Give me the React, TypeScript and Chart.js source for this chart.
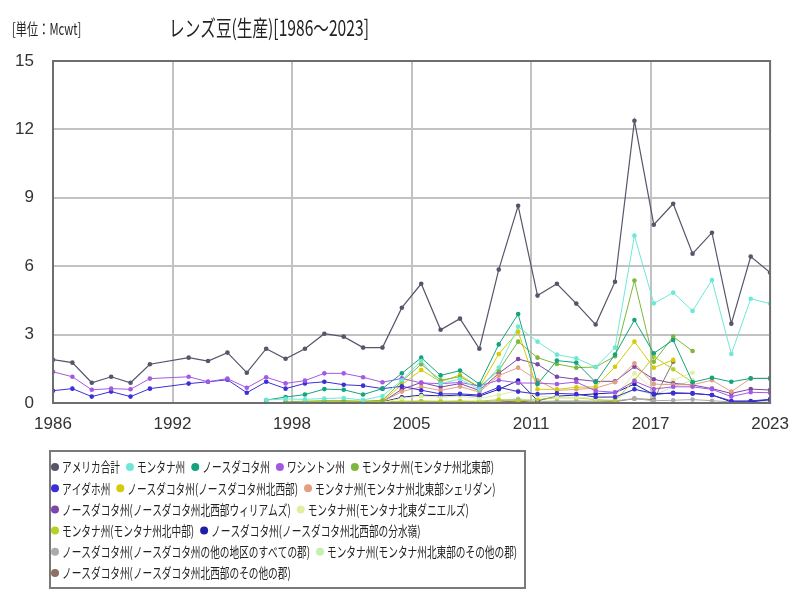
import React, { useEffect, useRef } from "react";
import { Chart, registerables } from "chart.js";
Chart.register(...registerables);

const TITLE = "レンズ豆(生産)[1986〜2023]";
const UNIT = "[単位：Mcwt]";

const years = [
  1986, 1987, 1988, 1989, 1990, 1991, 1992, 1993, 1994, 1995,
  1996, 1997, 1998, 1999, 2000, 2001, 2002, 2003, 2004, 2005,
  2006, 2007, 2008, 2009, 2010, 2011, 2012, 2013, 2014, 2015,
  2016, 2017, 2018, 2019, 2020, 2021, 2022, 2023,
];

const yTicks = [0, 3, 6, 9, 12, 15];

const N = null;

const usTotal = [1.90, 1.77, 0.89, 1.15, 0.89, 1.70, N, 1.99, 1.84, 2.21, 1.33, 2.38, 1.94, 2.38, 3.04, 2.91, 2.43, 2.43, 4.18, 5.23, 3.21, 3.70, 2.38, 5.85, 8.65, 4.71, 5.23, 4.36, 3.44, 5.32, 12.38, 7.82, 8.74, 6.55, 7.47, 3.48, 6.42, 5.72];
const montana = [N, N, N, N, N, N, N, N, N, N, N, 0.13, 0.18, 0.16, 0.20, 0.22, 0.13, 0.31, 1.00, 1.84, 0.85, 1.05, 0.60, 1.56, 3.35, 2.69, 2.12, 1.96, 1.58, 2.43, 7.34, 4.37, 4.84, 4.04, 5.39, 2.15, 4.57, 4.36];
const northDakota = [N, N, N, N, N, N, N, N, N, N, N, 0.13, 0.26, 0.37, 0.61, 0.58, 0.37, 0.63, 1.30, 1.99, 1.21, 1.42, 0.83, 2.57, 3.90, 0.83, 1.86, 1.77, 0.91, 2.13, 3.64, 2.18, 2.76, 0.91, 1.11, 0.93, 1.08, 1.08];
const washington = [1.37, 1.15, 0.58, 0.63, 0.60, 1.07, N, 1.15, 0.93, 1.07, 0.67, 1.13, 0.86, 0.98, 1.30, 1.30, 1.13, 0.91, 1.08, 0.88, 0.85, 0.90, 0.75, 1.00, 0.88, 0.87, 0.83, 0.92, 0.53, 0.47, 0.96, 0.61, 0.71, 0.71, 0.60, 0.28, 0.47, 0.45];
const montanaNE = [N, N, N, N, N, N, N, N, N, N, N, N, 0.05, 0.08, 0.10, 0.10, 0.08, 0.12, 0.95, 1.70, 1.00, 1.15, 0.70, 1.43, 2.69, 1.99, 1.71, 1.55, 1.58, 2.05, 5.37, 1.81, 2.91, 2.28, N, N, N, N];
const idaho = [0.54, 0.63, 0.28, 0.50, 0.28, 0.63, N, 0.85, 0.93, 1.02, 0.45, 0.93, 0.63, 0.86, 0.93, 0.80, 0.76, 0.63, 0.73, 0.56, 0.40, 0.40, 0.35, 0.69, 0.50, 0.39, 0.42, 0.39, 0.26, 0.26, 0.60, 0.42, 0.42, 0.42, 0.35, 0.09, 0.09, 0.16];
const ndNorthwest = [N, N, N, N, N, N, N, N, N, N, N, N, N, 0.05, 0.08, 0.08, 0.06, 0.08, 0.80, 1.45, 0.93, 1.23, 0.68, 2.15, 3.13, 0.60, 0.60, 0.69, 0.71, 1.59, 2.69, 1.55, 1.89, N, N, N, N, N];
const mtSheridan = [N, N, N, N, N, N, N, N, N, N, N, N, N, 0.02, 0.03, 0.03, 0.03, 0.05, 0.50, 0.71, 0.55, 0.72, 0.48, 1.20, 1.55, 1.00, 0.55, 0.60, 0.65, 0.91, 1.74, 0.83, 0.80, 0.80, 1.00, 0.50, 1.08, 1.08];
const ndWilliams = [N, N, N, N, N, N, N, N, N, N, N, N, N, 0.02, 0.03, 0.03, 0.03, 0.05, 0.60, 0.90, 0.70, 0.85, 0.55, 1.30, 1.93, 1.70, 1.15, 1.04, 0.95, 0.95, 1.59, 1.04, 0.86, 0.79, 0.63, 0.42, 0.61, 0.57];
const mtDaniels = [N, N, N, N, N, N, N, N, N, N, N, N, N, 0.01, 0.02, 0.02, 0.02, 0.03, 0.20, 0.30, 0.25, 0.30, 0.20, 0.35, 0.55, 0.30, 0.25, 0.25, 0.20, 0.30, 1.30, 0.60, 1.00, 1.33, N, N, N, N];
const mtNorthCentral = [N, N, N, N, N, N, N, N, N, N, N, N, N, 0.05, 0.05, 0.05, 0.05, 0.05, 0.08, 0.08, 0.08, 0.08, 0.08, 0.15, 0.10, 0.15, 0.23, 0.23, 0.15, 0.10, 1.00, 2.03, 1.48, 0.91, N, N, N, N];
const ndDivide = [N, N, N, N, N, N, N, N, N, N, N, 0.02, 0.02, 0.03, 0.03, 0.03, 0.03, 0.05, 0.25, 0.35, 0.31, 0.35, 0.30, 0.60, 0.98, 0.10, 0.30, 0.35, 0.40, 0.45, 0.83, 0.37, 0.45, 0.42, 0.35, 0.05, 0.05, 0.15];
const ndOtherDistricts = [N, N, N, N, N, N, N, N, N, N, N, N, N, 0.01, 0.01, 0.01, 0.01, 0.02, 0.05, 0.08, 0.06, 0.08, 0.05, 0.10, 0.15, 0.05, 0.08, 0.08, 0.08, 0.10, 0.19, 0.10, 0.12, 0.15, 0.10, 0.05, 0.08, 0.10];
const mtNEOther = [N, N, N, N, N, N, N, N, N, N, N, N, N, 0.01, 0.01, 0.01, 0.01, 0.01, 0.03, 0.05, 0.04, 0.05, 0.03, 0.10, 0.20, 0.08, 0.10, 0.10, 0.08, 0.15, 0.60, 0.35, 0.70, 1.00, N, N, N, N];
const ndNWOther = [N, N, N, N, N, N, N, N, N, N, N, N, N, 0.01, 0.01, 0.01, 0.01, 0.01, 0.02, 0.03, 0.03, 0.03, 0.02, 0.05, 0.08, 0.03, 0.05, 0.05, 0.05, 0.06, 0.19, 0.15, 1.81, N, N, N, N, N];

const seriesNames = [
  "アメリカ合計",
  "モンタナ州",
  "ノースダコタ州",
  "ワシントン州",
  "モンタナ州(モンタナ州北東部)",
  "アイダホ州",
  "ノースダコタ州(ノースダコタ州北西部)",
  "モンタナ州(モンタナ州北東部シェリダン)",
  "ノースダコタ州(ノースダコタ州北西部ウィリアムズ)",
  "モンタナ州(モンタナ北東ダニエルズ)",
  "モンタナ州(モンタナ州北中部)",
  "ノースダコタ州(ノースダコタ州北西部の分水嶺)",
  "ノースダコタ州(ノースダコタ州の他の地区のすべての郡)",
  "モンタナ州(モンタナ州北東部のその他の郡)",
  "ノースダコタ州(ノースダコタ州北西部のその他の郡)",
];
const seriesValues = [
  usTotal, montana, northDakota, washington, montanaNE, idaho, ndNorthwest,
  mtSheridan, ndWilliams, mtDaniels, mtNorthCentral, ndDivide,
  ndOtherDistricts, mtNEOther, ndNWOther,
];
const seriesColors = [
  "#55566a", "#6ee8d6", "#13a47e", "#a459e3", "#7db83c", "#3c2fd8",
  "#d4cc08", "#e49e80", "#7e46a6", "#e0f0a2", "#b8d026", "#1e1ea6",
  "#ababab", "#c4f0b4", "#8c7262",
];

const FONT_JP = "'Noto Sans CJK JP', 'Noto Sans', sans-serif";

function drawScaledText(ctx: CanvasRenderingContext2D, text: string, x: number, y: number, font: string, sx: number, align: CanvasTextAlign) {
  ctx.save();
  ctx.font = font;
  ctx.textBaseline = "middle";
  ctx.textAlign = align;
  ctx.translate(x, y);
  ctx.scale(sx, 1);
  ctx.fillText(text, 0, 0);
  ctx.restore();
}

const decorPlugin = {
  id: "decor",
  afterDatasetsDraw(chart: any) {
    const { ctx, chartArea } = chart;
    ctx.save();
    ctx.strokeStyle = "#6e6e6e";
    ctx.lineWidth = 2;
    ctx.strokeRect(chartArea.left, chartArea.top, chartArea.right - chartArea.left, chartArea.bottom - chartArea.top);
    ctx.restore();
  },
  afterDraw(chart: any) {
    const ctx: CanvasRenderingContext2D = chart.ctx;
    ctx.save();
    ctx.fillStyle = "#222";
    drawScaledText(ctx, TITLE, 269, 28, `22px ${FONT_JP}`, 0.71, "center");
    drawScaledText(ctx, UNIT, 12, 29, `16px ${FONT_JP}`, 0.7, "left");

    // legend box
    const boxL = 50, boxT = 451, boxW = 475, boxH = 137;
    ctx.strokeStyle = "#7a7a7a";
    ctx.lineWidth = 2;
    ctx.strokeRect(boxL, boxT, boxW, boxH);

    const sx = 0.69;
    const font = `14px ${FONT_JP}`;
    ctx.font = font;
    const startX = 51;
    const maxRight = boxL + boxW;
    let x = startX;
    let row = 0;
    const rowY0 = 467;
    const rowH = 21.2;
    seriesNames.forEach((name, i) => {
      const tw = ctx.measureText(name).width * sx;
      const w = 11 + tw;
      if (x + w > maxRight && x > startX) {
        row += 1;
        x = startX;
      }
      const y = rowY0 + row * rowH;
      ctx.beginPath();
      ctx.fillStyle = seriesColors[i];
      ctx.arc(x + 4, y, 4, 0, Math.PI * 2);
      ctx.fill();
      ctx.fillStyle = "#222";
      drawScaledText(ctx, name, x + 11, y, font, sx, "left");
      x += w + 6;
    });
    ctx.restore();
  },
};

export default function App() {
  const ref = useRef<HTMLCanvasElement | null>(null);
  useEffect(() => {
    if (!ref.current) return;
    const datasets = seriesNames.map((name, i) => ({
      label: name,
      data: years
        .map((yr, j) => ({ x: yr, y: seriesValues[i][j] }))
        .filter((p) => p.y !== null),
      borderColor: seriesColors[i],
      backgroundColor: seriesColors[i],
      pointBackgroundColor: seriesColors[i],
      pointBorderWidth: 0,
      pointRadius: 2.3,
      borderWidth: i === 0 ? 1.2 : 1,
      tension: 0,
    }));
    const chart = new Chart(ref.current, {
      type: "line",
      data: { datasets },
      options: {
        animation: false,
        responsive: false,
        maintainAspectRatio: false,
        layout: { padding: { top: 61, right: 28, left: 0, bottom: 0 } },
        plugins: {
          legend: { display: false },
          title: { display: false },
          tooltip: { enabled: false },
        },
        scales: {
          x: {
            type: "linear",
            min: years[0],
            max: years[years.length - 1],
            afterFit: (scale: any) => { scale.height = 197; },
            afterBuildTicks: (scale: any) => {
              const a = years[0];
              const b = years[years.length - 1];
              scale.ticks = [0, 1, 2, 3, 4, 5, 6].map((k) => ({ value: a + ((b - a) * k) / 6 }));
            },
            grid: { color: "#c2c2c2", lineWidth: 2, drawTicks: false },
            border: { display: false },
            ticks: {
              padding: 11,
              color: "#333",
              maxRotation: 0,
              font: { family: "'Liberation Sans', Arial, sans-serif", size: 17 },
              callback: (v: any) => String(Math.round(Number(v))),
            },
          },
          y: {
            min: yTicks[0],
            max: yTicks[yTicks.length - 1],
            afterFit: (scale: any) => { scale.width = 53; },
            afterBuildTicks: (scale: any) => {
              scale.ticks = yTicks.map((v) => ({ value: v }));
            },
            grid: { color: "#c2c2c2", lineWidth: 2, drawTicks: false },
            border: { display: false },
            ticks: {
              padding: 19,
              color: "#333",
              font: { family: "'Liberation Sans', Arial, sans-serif", size: 17 },
            },
          },
        },
      },
      plugins: [decorPlugin],
    });
    return () => chart.destroy();
  }, []);
  return (
    <div style={{ position: "fixed", left: 0, top: 0, width: 800, height: 600, background: "#fff" }}>
      <canvas ref={ref} width={800} height={600} style={{ width: 800, height: 600 }} />
    </div>
  );
}
